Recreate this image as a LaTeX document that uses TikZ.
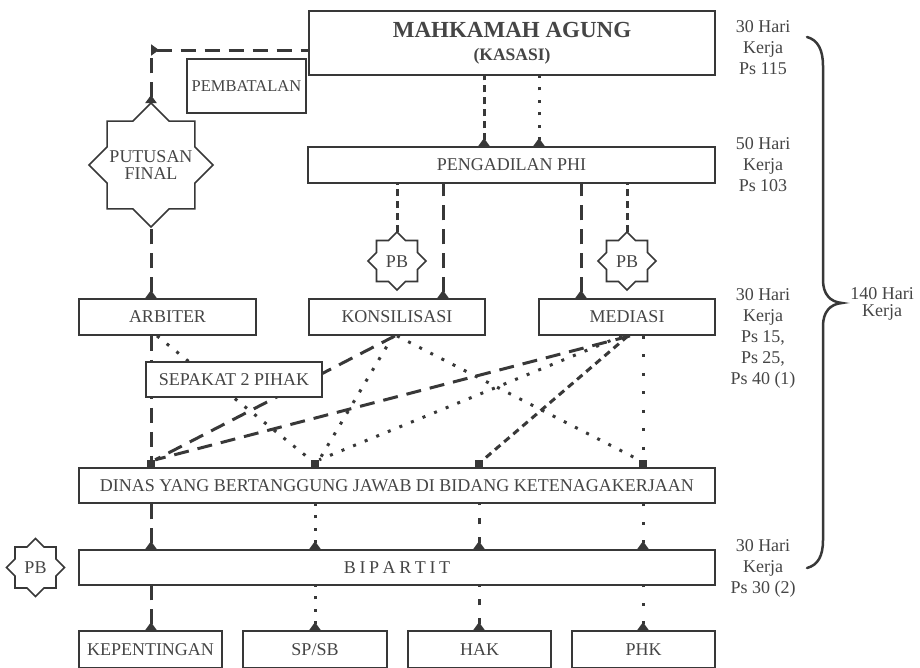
\documentclass[tikz,border=0pt]{standalone}
\usepackage{fontspec}
\setmainfont{Liberation Serif}
\usetikzlibrary{arrows.meta}
\definecolor{ink}{HTML}{383838}
\definecolor{txt}{HTML}{454545}
% eight-pointed star outline: centre x, centre y, outer radius
\newcommand\octstar[3]{%
  \draw[octline, shift={(#1,#2)}] (#3,0)
    \foreach \k in {1,...,15}{ -- ({\k*22.5}:{ifthenelse(isodd(\k),0.7654*#3,#3)}) } -- cycle;}
\begin{document}
\begin{tikzpicture}[x=1pt,y=-1pt,
  every node/.style={text=txt, font=\fontsize{18}{21}\selectfont},
  box/.style={draw=ink, line width=1.8pt, fill=white, inner sep=0pt},
  octline/.style={draw=ink, line width=1.6pt, fill=white, line join=miter},
  sq/.style={fill=ink, minimum size=8pt, inner sep=0pt},
  note/.style={align=center, inner sep=0pt},
  longdash/.style={draw=ink, line width=3pt, dash pattern=on 15pt off 9pt},
  shortdash/.style={draw=ink, line width=3pt, dash pattern=on 7pt off 5pt},
  sparsedash/.style={draw=ink, line width=3pt, dash pattern=on 6pt off 13pt},
  dotline/.style={draw=ink, line width=3pt, dash pattern=on 3pt off 9.5pt},
  sparsedot/.style={draw=ink, line width=3pt, dash pattern=on 3pt off 15.5pt},
  up/.style={{Triangle[width=11pt,length=8pt,reversed]}-},
]
\fill[white] (0,0) rectangle (920,667);
\useasboundingbox (0,0) rectangle (920,667);

% boxes
\node[box, minimum width=406pt, minimum height=64pt] (ma) at (512,43) {};
\node[inner sep=0pt, font=\fontsize{23}{26}\selectfont\bfseries] (matitle) at (512,30) {MAHKAMAH AGUNG};
\node[inner sep=0pt, font=\fontsize{17.5}{20}\selectfont\bfseries] (masub) at (512,56) {(KASASI)};
\node[box, minimum width=119pt, minimum height=54pt, font=\fontsize{16.5}{19}\selectfont] (pemb) at (246.5,86) {PEMBATALAN};
\node[box, minimum width=407pt, minimum height=36pt] (phi) at (511.5,165) {PENGADILAN PHI};
\node[box, minimum width=177pt, minimum height=36pt] (arb) at (167.5,317) {ARBITER};
\node[box, minimum width=176pt, minimum height=36pt] (kon) at (397,317) {KONSILISASI};
\node[box, minimum width=176pt, minimum height=36pt] (med) at (627,317) {MEDIASI};
\node[box, minimum width=636pt, minimum height=35pt] (dinas) at (397,485.5) {DINAS YANG BERTANGGUNG JAWAB DI BIDANG KETENAGAKERJAAN};
\node[box, minimum width=636pt, minimum height=35pt] (bip) at (397,567.5)
  {B\kern3.6pt I\kern3.6pt P\kern3.6pt A\kern3.6pt R\kern3.6pt T\kern3.6pt I\kern3.6pt T};
\node[box, minimum width=143pt, minimum height=37pt] (kep) at (150.5,649.5) {KEPENTINGAN};
\node[box, minimum width=144pt, minimum height=37pt] (spsb) at (315,649.5) {SP/SB};
\node[box, minimum width=143pt, minimum height=37pt] (hak) at (479.5,649.5) {HAK};
\node[box, minimum width=143pt, minimum height=37pt] (phk) at (643.5,649.5) {PHK};

% stars
\octstar{151}{165}{62}
\octstar{397}{261}{29}
\octstar{627}{261}{29}
\octstar{35.5}{567.5}{29}
\node[align=center, inner sep=0pt, font=\fontsize{18}{17}\selectfont] (put) at (151,165) {PUTUSAN\\FINAL};
\node[inner sep=0pt] (pb1) at (397,262) {PB};
\node[inner sep=0pt] (pb2) at (627,262) {PB};
\node[inner sep=0pt] (pb3) at (35.5,568) {PB};
\coordinate (put-n) at (151,103);
\coordinate (put-s) at (151,227);
\coordinate (pb1-n) at (397,232);
\coordinate (pb2-n) at (627,232);

% markers on top of the Dinas box
\node[sq] (s1) at (151,464) {};
\node[sq] (s2) at (315,464) {};
\node[sq] (s3) at (479,464) {};
\node[sq] (s4) at (643,464) {};

% cancellation path back to the final decision
\coordinate (corner) at (151,50);
\draw[longdash, up] (put-n) -- (corner);
\draw[longdash, up] (corner) -- (corner -| ma.west);

% Mahkamah Agung -- Pengadilan PHI
\draw[shortdash, up] ([xshift=-27.5pt]phi.north) -- ([xshift=-27.5pt]phi.north |- ma.south);
\draw[dotline, up] ([xshift=27.5pt]phi.north) -- ([xshift=27.5pt]phi.north |- ma.south);

% Pengadilan PHI -- PB stars and mediation boxes
\draw[shortdash] (pb1-n) -- (pb1-n |- phi.south);
\draw[shortdash] (pb2-n) -- (pb2-n |- phi.south);
\draw[longdash, up] ([xshift=46pt]kon.north) -- ([xshift=46pt]kon.north |- phi.south);
\draw[longdash, up] ([xshift=-46pt]med.north) -- ([xshift=-46pt]med.north |- phi.south);

% final decision -- arbiter
\draw[longdash, up] (put-s |- arb.north) -- (put-s);

% middle row -- Dinas
\draw[longdash] (s1 |- arb.south) -- (s1.north);
\draw[dotline] ([xshift=-10.5pt]arb.south) -- (s2.north west);
\draw[longdash] ([xshift=-2pt]kon.south) -- (s1.north east);
\draw[dotline] ([xshift=-4pt]kon.south) -- (s2.north east);
\draw[dotline] (kon.south) -- (s4.north west);
\draw[longdash] ([xshift=3pt]med.south) -- (s1.north east);
\draw[dotline] ([xshift=-5pt]med.south) -- (s2.north east);
\draw[shortdash] ([xshift=1pt]med.south) -- (s3.north east);
\draw[sparsedot] (s4 |- med.south) -- (s4.north);

% agreement box drawn over the crossing lines
\node[box, minimum width=176pt, minimum height=35pt] (sep) at (234,379.5) {SEPAKAT 2 PIHAK};

% Dinas -- Bipartit
\draw[longdash, up] (s1 |- bip.north) -- (s1 |- dinas.south);
\draw[dotline, up] (s2 |- bip.north) -- (s2 |- dinas.south);
\draw[sparsedash, up] (s3 |- bip.north) -- (s3 |- dinas.south);
\draw[sparsedot, up] (s4 |- bip.north) -- (s4 |- dinas.south);

% Bipartit -- dispute types
\draw[longdash, up] (s1 |- kep.north) -- (s1 |- bip.south);
\draw[dotline, up] (s2 |- spsb.north) -- (s2 |- bip.south);
\draw[sparsedash, up] (s3 |- hak.north) -- (s3 |- bip.south);
\draw[sparsedot, up] (s4 |- phk.north) -- (s4 |- bip.south);

% time limits
\node[note] (t1) at (763,48) {30 Hari\\Kerja\\Ps 115};
\node[note] (t2) at (763,165) {50 Hari\\Kerja\\Ps 103};
\node[note] (t3) at (763,338) {30 Hari\\Kerja\\Ps 15,\\Ps 25,\\Ps 40 (1)};
\node[note] (t4) at (763,568) {30 Hari\\Kerja\\Ps 30 (2)};
\node[note, font=\fontsize{18}{17.5}\selectfont] (t5) at (882,304) {140 Hari\\Kerja};

% brace spanning all stages
\draw[ink, line width=2.5pt, line cap=round]
  (807,37) .. controls (818,40) and (823,50) .. (823,66)
  -- (823,280) .. controls (823,294) and (830,302) .. (842,303)
  .. controls (830,304) and (823,312) .. (823,326)
  -- (823,540) .. controls (823,556) and (818,565) .. (807,568);
\end{tikzpicture}
\end{document}
